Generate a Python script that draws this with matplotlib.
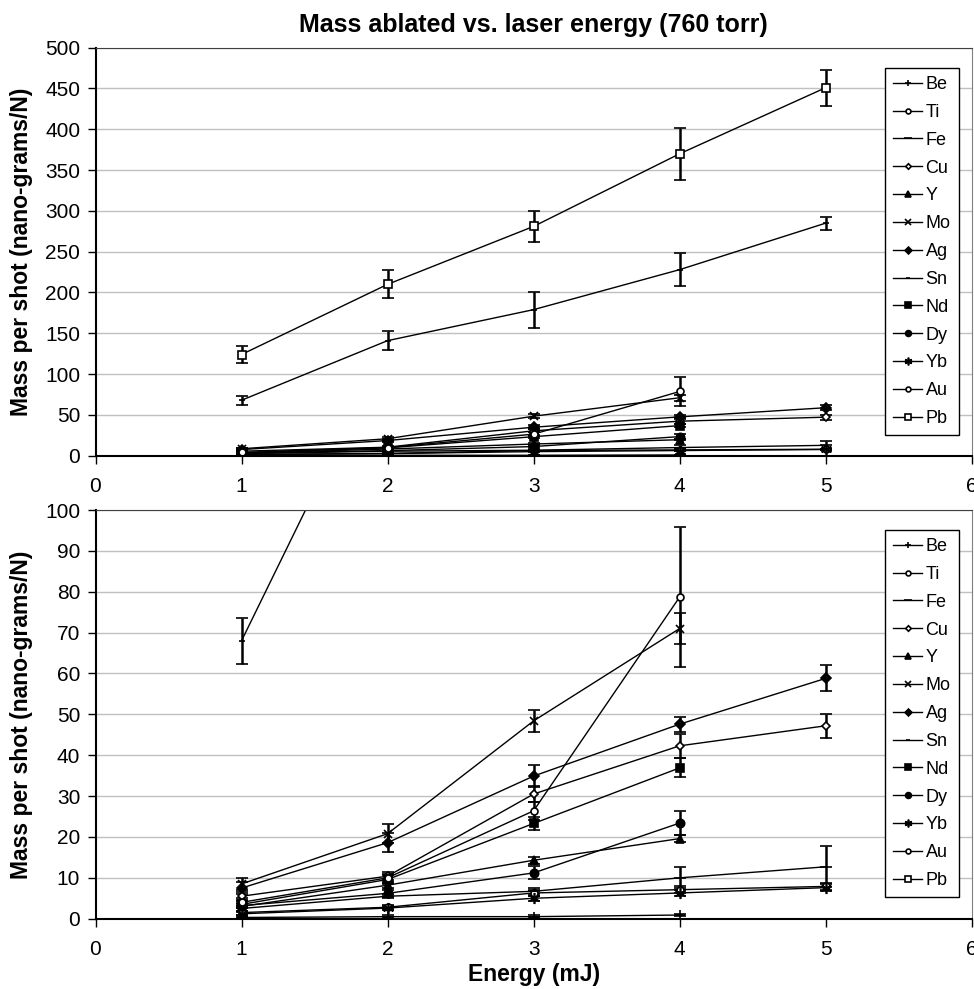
import matplotlib
matplotlib.use("Agg")
import matplotlib.pyplot as plt

plt.rcParams['font.family'] = ['Liberation Sans', 'DejaVu Sans']

# energies (mJ)
energy = [1, 2, 3, 4, 5]

# mass per shot (nano-grams/N) and error bars
names = ['Be', 'Ti', 'Fe', 'Cu', 'Y', 'Mo', 'Ag', 'Sn', 'Nd', 'Dy', 'Yb', 'Au', 'Pb']

be = [0.3, 0.5, 0.5, 0.9]
be_err = [0.2, 0.3, 0.3, 0.3]
ti = [1.5, 2.8, 6.3, 7.1, 7.9]
ti_err = [0.5, 0.5, 0.7, 0.8, 0.8]
fe = [2.5, 5.5, 6.7, 10.0, 12.7]
fe_err = [0.5, 0.5, 0.7, 2.6, 5.0]
cu = [5.5, 10.4, 30.5, 42.3, 47.2]
cu_err = [1.0, 1.0, 2.0, 2.9, 2.9]
y_ = [3.0, 8.2, 14.3, 19.6]
y_err = [0.5, 0.6, 0.8, 0.9]
mo = [8.5, 20.8, 48.4, 71.0]
mo_err = [1.5, 2.4, 2.6, 3.8]
ag = [7.5, 18.6, 34.9, 47.6, 58.8]
ag_err = [1.5, 2.4, 2.7, 1.8, 3.2]
sn = [68, 141, 179, 228, 285]
sn_err = [5.6, 12, 22, 20, 8]
nd = [3.5, 9.6, 23.3, 36.9]
nd_err = [0.8, 1.0, 1.6, 2.3]
dy = [3.2, 6.2, 11.2, 23.4]
dy_err = [0.6, 0.8, 1.6, 3.0]
yb = [1.2, 2.6, 5.0, 6.3, 7.6]
yb_err = [0.4, 0.5, 0.6, 0.7, 0.8]
au = [4.0, 10.0, 26.4, 78.7]
au_err = [1.0, 1.0, 2.2, 17.2]
pb = [124, 210, 281, 370, 451]
pb_err = [10, 17, 19, 32, 22]

series = [be, ti, fe, cu, y_, mo, ag, sn, nd, dy, yb, au, pb]
errors = [be_err, ti_err, fe_err, cu_err, y_err, mo_err, ag_err, sn_err,
          nd_err, dy_err, yb_err, au_err, pb_err]

# marker, filled?, size
styles = {
    'Be': ('+', True, 7),
    'Ti': ('o', False, 5),
    'Fe': ('_', True, 8),
    'Cu': ('D', False, 4),
    'Y': ('^', True, 6),
    'Mo': ('x', True, 6),
    'Ag': ('D', True, 5),
    'Sn': ('_', True, 4),
    'Nd': ('s', True, 5.5),
    'Dy': ('o', True, 6),
    'Yb': ((6, 2, 0), True, 8),
    'Au': ('o', False, 5),
    'Pb': ('s', False, 5.5),
}

fig = plt.figure(figsize=(9.74, 9.89), dpi=100)
left = 95.5 / 974
width = (971.7 - 95.5) / 974
ax1 = fig.add_axes([left, 1 - 455.7 / 989, width, (455.7 - 47.7) / 989])
ax2 = fig.add_axes([left, 1 - 918.7 / 989, width, (918.7 - 510) / 989])


def draw(ax, ymax, ystep, legend_top):
    for name, vals, errs in zip(names, series, errors):
        m, filled, ms = styles[name]
        xs = energy[:len(vals)]
        ax.errorbar(xs, vals, yerr=errs, color='black', lw=1.0,
                    marker=m, ms=ms, mec='black', mew=1.2,
                    mfc='black' if filled else 'white',
                    ecolor='black', elinewidth=1.8, capsize=4, capthick=1.8,
                    label=name)
    ax.set_xlim(0, 6)
    ax.set_ylim(0, ymax)
    ax.set_xticks(range(0, 7))
    ax.set_yticks(range(0, ymax + 1, ystep))
    ax.yaxis.grid(True, color='#c0c0c0', lw=1.0)
    ax.set_axisbelow(True)
    ax.tick_params(direction='out', length=6, width=1, labelsize=15, pad=5)
    ax.tick_params(axis='x', pad=9)
    for s in ['left', 'bottom']:
        ax.spines[s].set_linewidth(1.5)
        ax.spines[s].set_color('black')
    ax.spines['top'].set_color('#404040')
    ax.spines['right'].set_color('#808080')
    ax.set_ylabel('Mass per shot (nano-grams/N)', fontsize=16.5, fontweight='bold',
                  labelpad=9)
    handles, labels = ax.get_legend_handles_labels()
    handles = [h[0] for h in handles]
    leg = ax.legend(handles, labels, loc='upper left',
                    bbox_to_anchor=(885 / 974, legend_top),
                    bbox_transform=fig.transFigure,
                    fontsize=13, frameon=True, fancybox=False,
                    edgecolor='black', framealpha=1, borderpad=0.45,
                    labelspacing=0.6, handlelength=1.6, handletextpad=0.2,
                    borderaxespad=0, markerscale=0.7)
    leg.get_frame().set_linewidth(1.0)


draw(ax1, 500, 50, 1 - 68 / 989)
draw(ax2, 100, 10, 1 - 530 / 989)

ax1.set_title('Mass ablated vs. laser energy (760 torr)', fontsize=18,
              fontweight='bold', pad=11)
ax2.set_xlabel('Energy (mJ)', fontsize=16.5, fontweight='bold', labelpad=3)

fig.savefig('out.png', dpi=100)
